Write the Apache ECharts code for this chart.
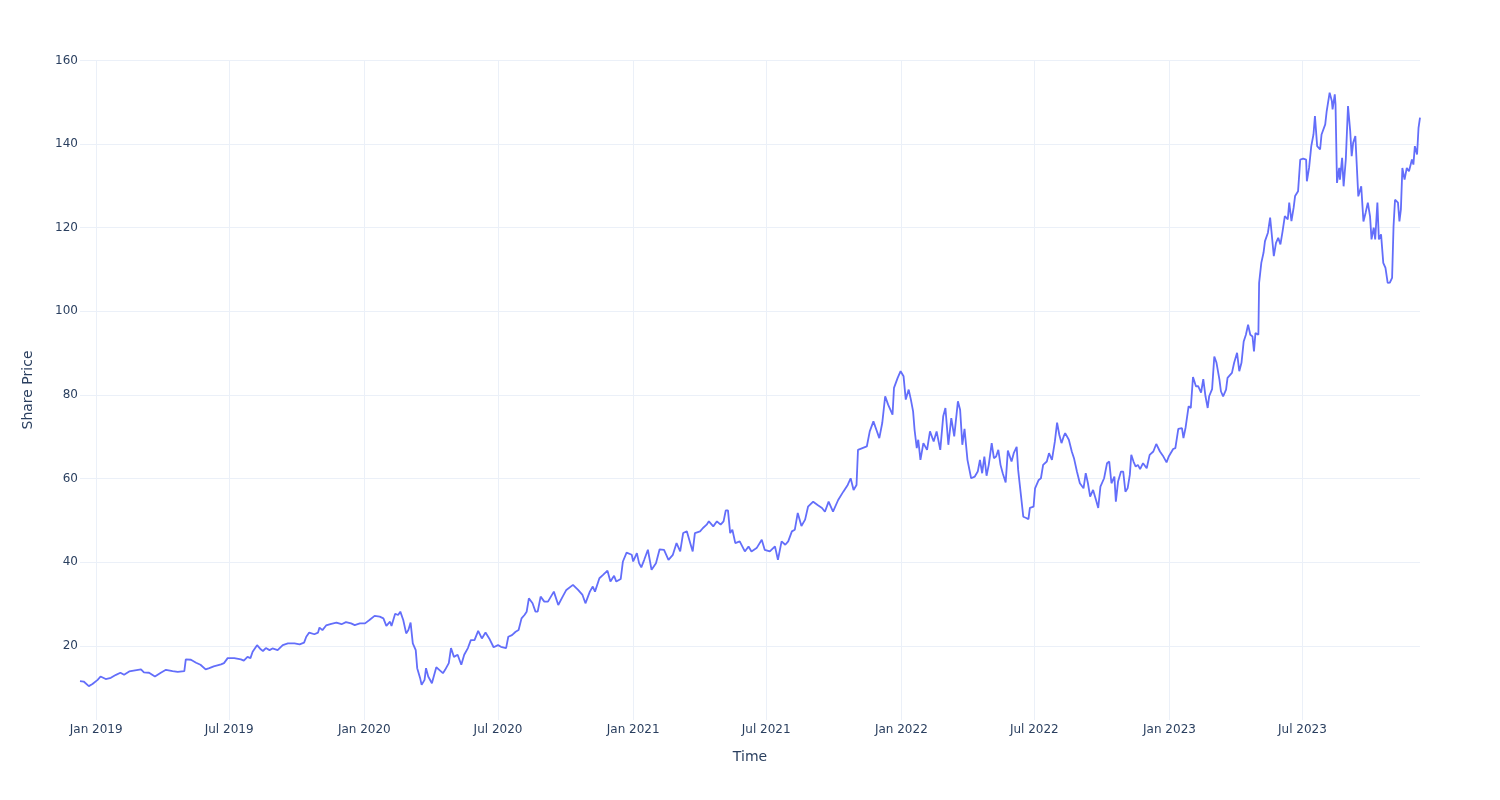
<!DOCTYPE html>
<html><head><meta charset="utf-8">
<script src="https://cdn.jsdelivr.net/npm/echarts@6/dist/echarts.min.js"></script>
<style>html,body{margin:0;padding:0;background:#fff}#c{width:1500px;height:800px}</style>
</head><body><div id="c"></div>
<script>
const dates = [
'2018-12-10','2018-12-15','2018-12-22','2018-12-27','2019-01-03','2019-01-07','2019-01-14','2019-01-21','2019-01-28','2019-02-03',
'2019-02-08','2019-02-15','2019-02-21','2019-03-03','2019-03-07','2019-03-14','2019-03-22','2019-03-30','2019-04-06','2019-04-15',
'2019-04-22','2019-05-01','2019-05-03','2019-05-10','2019-05-17','2019-05-23','2019-05-30','2019-06-04','2019-06-10','2019-06-20',
'2019-06-24','2019-06-29','2019-07-08','2019-07-17','2019-07-21','2019-07-26','2019-07-30','2019-08-02','2019-08-08','2019-08-13',
'2019-08-16','2019-08-20','2019-08-25','2019-08-29','2019-09-05','2019-09-12','2019-09-19','2019-09-28','2019-10-05','2019-10-11',
'2019-10-14','2019-10-18','2019-10-25','2019-10-30','2019-11-01','2019-11-05','2019-11-10','2019-11-17','2019-11-24','2019-12-01',
'2019-12-07','2019-12-14','2019-12-19','2019-12-26','2020-01-02','2020-01-08','2020-01-15','2020-01-22','2020-01-27','2020-01-31',
'2020-02-05','2020-02-07','2020-02-12','2020-02-16','2020-02-19','2020-02-23','2020-02-27','2020-03-01','2020-03-04','2020-03-07',
'2020-03-11','2020-03-13','2020-03-17','2020-03-19','2020-03-23','2020-03-25','2020-03-28','2020-04-02','2020-04-08','2020-04-12',
'2020-04-17','2020-04-20','2020-04-25','2020-04-28','2020-05-02','2020-05-07','2020-05-12','2020-05-16','2020-05-21','2020-05-25',
'2020-05-30','2020-06-04','2020-06-09','2020-06-14','2020-06-19','2020-06-25','2020-07-01','2020-07-05','2020-07-12','2020-07-15',
'2020-07-20','2020-07-25','2020-07-29','2020-08-02','2020-08-06','2020-08-09','2020-08-12','2020-08-17','2020-08-21','2020-08-24',
'2020-08-28','2020-09-02','2020-09-07','2020-09-15','2020-09-21','2020-09-27','2020-10-02','2020-10-11','2020-10-18','2020-10-24',
'2020-10-28','2020-11-03','2020-11-07','2020-11-10','2020-11-16','2020-11-21','2020-11-27','2020-12-01','2020-12-06','2020-12-09',
'2020-12-15','2020-12-18','2020-12-23','2020-12-30','2021-01-01','2021-01-06','2021-01-09','2021-01-12','2021-01-16','2021-01-21',
'2021-01-26','2021-02-01','2021-02-06','2021-02-12','2021-02-18','2021-02-24','2021-03-01','2021-03-06','2021-03-10','2021-03-15',
'2021-03-19','2021-03-23','2021-03-26','2021-04-02','2021-04-06','2021-04-11','2021-04-14','2021-04-20','2021-04-25','2021-04-30',
'2021-05-04','2021-05-07','2021-05-10','2021-05-13','2021-05-16','2021-05-20','2021-05-26','2021-06-02','2021-06-07','2021-06-11',
'2021-06-18','2021-06-25','2021-06-29','2021-07-06','2021-07-13','2021-07-17','2021-07-22','2021-07-27','2021-07-31','2021-08-05',
'2021-08-09','2021-08-13','2021-08-18','2021-08-23','2021-08-27','2021-09-03','2021-09-09','2021-09-15','2021-09-19','2021-09-24',
'2021-09-30','2021-10-07','2021-10-14','2021-10-20','2021-10-24','2021-10-28','2021-11-01','2021-11-03','2021-11-09','2021-11-15',
'2021-11-19','2021-11-24','2021-11-28','2021-12-02','2021-12-06','2021-12-10','2021-12-14','2021-12-20','2021-12-22','2021-12-27',
'2021-12-31','2022-01-04','2022-01-07','2022-01-11','2022-01-14','2022-01-17','2022-01-19','2022-01-22','2022-01-24','2022-01-27',
'2022-01-31','2022-02-05','2022-02-09','2022-02-14','2022-02-18','2022-02-23','2022-02-27','2022-03-02','2022-03-06','2022-03-10',
'2022-03-14','2022-03-19','2022-03-22','2022-03-25','2022-03-28','2022-04-01','2022-04-03','2022-04-06','2022-04-11','2022-04-15',
'2022-04-18','2022-04-21','2022-04-24','2022-04-27','2022-04-30','2022-05-04','2022-05-07','2022-05-10','2022-05-13','2022-05-16',
'2022-05-19','2022-05-23','2022-05-26','2022-05-31','2022-06-03','2022-06-07','2022-06-09','2022-06-13','2022-06-16','2022-06-20',
'2022-06-23','2022-06-25','2022-06-30','2022-07-02','2022-07-07','2022-07-10','2022-07-13','2022-07-18','2022-07-21','2022-07-25',
'2022-07-29','2022-08-01','2022-08-04','2022-08-07','2022-08-10','2022-08-12','2022-08-17','2022-08-21','2022-08-24','2022-08-28',
'2022-09-01','2022-09-06','2022-09-09','2022-09-12','2022-09-15','2022-09-19','2022-09-23','2022-09-26','2022-09-29','2022-10-04',
'2022-10-08','2022-10-11','2022-10-14','2022-10-18','2022-10-20','2022-10-23','2022-10-27','2022-10-30','2022-11-02','2022-11-05',
'2022-11-08','2022-11-10','2022-11-13','2022-11-16','2022-11-19','2022-11-22','2022-11-26','2022-12-01','2022-12-05','2022-12-10',
'2022-12-14','2022-12-19','2022-12-23','2022-12-28','2022-12-31','2023-01-06','2023-01-09','2023-01-13','2023-01-18','2023-01-20',
'2023-01-23','2023-01-27','2023-01-30','2023-02-02','2023-02-06','2023-02-09','2023-02-13','2023-02-16','2023-02-19','2023-02-22',
'2023-02-24','2023-02-28','2023-03-03','2023-03-06','2023-03-10','2023-03-12','2023-03-15','2023-03-19','2023-03-21','2023-03-27',
'2023-03-30','2023-04-03','2023-04-06','2023-04-09','2023-04-12','2023-04-15','2023-04-18','2023-04-21','2023-04-24','2023-04-26',
'2023-04-28','2023-05-02','2023-05-03','2023-05-06','2023-05-09','2023-05-11','2023-05-15','2023-05-18','2023-05-20','2023-05-23',
'2023-05-26','2023-05-29','2023-06-01','2023-06-04','2023-06-07','2023-06-11','2023-06-13','2023-06-16','2023-06-19','2023-06-21',
'2023-06-25','2023-06-28','2023-07-02','2023-07-06','2023-07-07','2023-07-10','2023-07-13','2023-07-16','2023-07-18','2023-07-21',
'2023-07-25','2023-07-27','2023-08-01','2023-08-03','2023-08-07','2023-08-10','2023-08-11','2023-08-14','2023-08-15','2023-08-17',
'2023-08-20','2023-08-21','2023-08-24','2023-08-26','2023-08-29','2023-09-01','2023-09-04','2023-09-06','2023-09-08','2023-09-11',
'2023-09-13','2023-09-15','2023-09-19','2023-09-22','2023-09-25','2023-09-28','2023-10-01','2023-10-03','2023-10-06','2023-10-08',
'2023-10-11','2023-10-13','2023-10-16','2023-10-19','2023-10-22','2023-10-25','2023-10-28','2023-10-31','2023-11-02','2023-11-04',
'2023-11-08','2023-11-10','2023-11-12','2023-11-14','2023-11-17','2023-11-20','2023-11-23','2023-11-27','2023-11-29','2023-12-01',
'2023-12-04','2023-12-06','2023-12-08'
];
const prices = [
11.6,11.5,10.4,10.9,11.9,12.7,12.1,12.4,13.1,13.6,
13.1,13.9,14.1,14.4,13.7,13.6,12.7,13.6,14.3,14.0,
13.8,14.0,16.8,16.7,16.0,15.5,14.4,14.7,15.1,15.6,
15.9,17.1,17.1,16.8,16.5,17.4,17.1,18.6,20.2,19.2,
18.8,19.5,19.0,19.4,19.0,20.2,20.6,20.6,20.4,20.8,
22.2,23.2,22.8,23.2,24.4,23.8,24.9,25.3,25.6,25.2,
25.7,25.4,25.0,25.4,25.4,26.2,27.2,27.0,26.6,24.8,
25.8,24.8,27.7,27.4,28.2,26.2,23.0,23.8,25.6,20.6,
19.0,14.7,12.3,10.7,11.9,14.7,12.7,11.1,14.9,14.3,
13.5,14.3,15.9,19.5,17.4,17.9,15.5,17.9,19.5,21.4,
21.4,23.6,21.8,23.2,21.8,19.7,20.2,19.8,19.5,22.2,
22.6,23.4,23.8,26.6,27.4,28.2,31.4,30.2,28.2,28.2,
31.8,30.6,30.6,33.0,29.8,31.8,33.4,34.6,33.4,32.2,
30.2,33.0,34.2,33.0,36.2,37.0,38.0,35.4,36.8,35.4,
36.0,40.2,42.3,41.8,40.2,42.2,39.8,38.8,40.6,43.0,
38.2,39.8,43.1,43.0,40.6,41.8,44.6,42.6,47.0,47.4,
45.0,42.6,47.0,47.4,48.2,49.0,49.8,48.6,49.8,49.0,
49.8,52.4,52.4,47.0,47.8,44.6,45.0,42.6,43.8,42.6,
43.4,45.4,43.0,42.6,43.8,40.6,45.0,44.2,45.0,47.4,
47.8,51.8,48.7,50.2,53.3,54.5,53.7,53.0,52.1,54.5,
52.1,54.9,56.9,58.5,60.1,57.3,58.5,66.9,67.3,67.7,
71.3,73.7,71.7,69.7,73.3,79.7,77.7,75.3,81.7,84.1,
85.7,84.5,78.9,81.3,78.9,76.1,71.7,67.3,69.3,64.5,
68.5,66.9,71.3,68.9,71.3,66.9,74.9,76.9,68.1,74.5,
70.1,78.5,76.5,68.1,71.9,64.5,64.9,60.1,60.5,61.7,
64.5,61.3,65.3,60.7,63.3,68.5,64.9,65.3,66.9,63.3,
61.3,59.1,66.7,64.1,66.1,67.6,62.1,55.7,50.9,50.6,
50.3,53.0,53.3,57.7,59.7,60.1,63.3,64.1,66.1,64.5,
68.9,73.4,70.5,68.5,70.1,70.9,69.3,66.5,64.9,61.7,
58.9,57.7,61.3,58.9,55.7,57.3,54.9,53.0,58.1,60.1,
63.7,64.1,58.9,60.5,54.5,59.3,61.7,61.7,56.9,57.7,
60.9,65.7,64.1,62.9,63.3,62.3,63.7,62.5,65.7,66.5,
68.3,66.5,65.5,63.9,65.3,67.1,67.3,71.9,72.1,69.7,
72.3,77.3,76.9,84.3,82.1,82.1,80.6,83.8,79.7,76.9,
79.7,81.4,89.2,87.7,83.7,80.9,79.7,81.3,84.1,85.3,
87.7,90.1,85.7,87.7,92.8,94.4,96.8,94.4,94.0,90.4,
94.8,94.4,106.8,111.6,114.0,116.8,118.8,122.4,118.8,113.2,
116.4,117.6,116.0,119.2,122.8,122.0,126.0,121.6,124.8,127.6,
128.7,136.3,136.5,136.3,131.1,134.3,139.5,142.3,146.7,139.5,
138.7,142.3,144.7,147.9,152.3,150.3,148.3,151.9,149.5,130.7,
134.3,131.5,136.7,129.9,136.3,149.1,143.1,137.1,140.3,141.9,
134.7,127.5,129.9,121.5,123.6,126.0,122.7,117.2,120.0,117.2,
126.0,117.2,118.4,111.6,110.4,106.8,106.9,108.0,120.4,126.7,
126.0,121.5,124.4,134.3,131.5,134.3,133.5,136.3,135.1,139.5,
137.5,143.9,146.3
];
const xTickDates = ['2019-01-01','2019-07-01','2020-01-01','2020-07-01','2021-01-01','2021-07-01','2022-01-01','2022-07-01','2023-01-01','2023-07-01'];
const xTickLabels = ['Jan 2019','Jul 2019','Jan 2020','Jul 2020','Jan 2021','Jul 2021','Jan 2022','Jul 2022','Jan 2023','Jul 2023'];
const yTicks = [20,40,60,80,100,120,140,160];
const xRange = ['2018-12-10','2023-12-08'];
const yRange = [2.3,160.1];

function ts(s){const p=s.split('-');return Date.UTC(+p[0],+p[1]-1,+p[2]);}
const xTickValues = xTickDates.map(ts);
const seriesData = dates.map((d,i)=>[ts(d),prices[i]]);
const FONT = '"DejaVu Sans", Verdana, sans-serif';
const TXT = '#2a3f5f';
const GRID = '#EBF0F8';

const chart = echarts.init(document.getElementById('c'), null, {renderer:'canvas'});
chart.setOption({
  animation:false,
  backgroundColor:'#ffffff',
  grid:{left:80,right:80,top:60,bottom:80,containLabel:false},
  xAxis:{
    type:'value',
    min:ts(xRange[0]), max:ts(xRange[1]),
    name:'Time', nameLocation:'middle', nameGap:30,
    nameTextStyle:{color:TXT,fontFamily:FONT,fontSize:14},
    axisLine:{show:false},
    axisTick:{show:false,customValues:xTickValues},
    axisLabel:{customValues:xTickValues,color:TXT,fontFamily:FONT,fontSize:12,margin:4,hideOverlap:false,
      formatter:function(v){const i=xTickValues.indexOf(v);return i>=0?xTickLabels[i]:'';}},
    splitLine:{show:true,lineStyle:{color:GRID,width:1}}
  },
  yAxis:{
    type:'value',
    min:yRange[0], max:yRange[1],
    name:'Share Price', nameLocation:'middle', nameGap:45, nameRotate:90,
    nameTextStyle:{color:TXT,fontFamily:FONT,fontSize:14},
    axisLine:{show:false},
    axisTick:{show:false,customValues:yTicks},
    axisLabel:{customValues:yTicks,color:TXT,fontFamily:FONT,fontSize:12,margin:2},
    splitLine:{show:true,lineStyle:{color:GRID,width:1}}
  },
  series:[{
    type:'line',
    data:seriesData,
    showSymbol:false,
    symbol:'none',
    lineStyle:{color:'#636efa',width:1.8},
    itemStyle:{color:'#636efa'},
    clip:true
  }]
});
</script>
</body></html>
